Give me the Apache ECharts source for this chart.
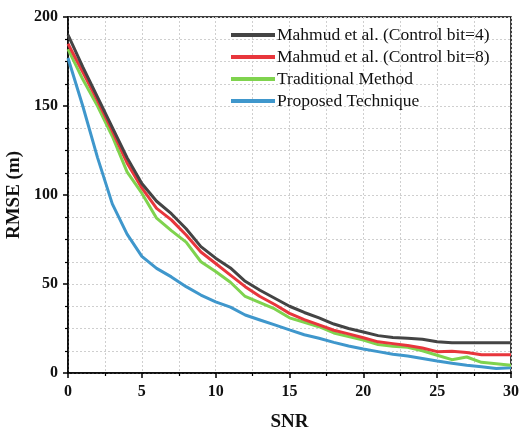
<!DOCTYPE html>
<html>
<head>
<meta charset="utf-8">
<script src="https://cdn.jsdelivr.net/npm/echarts@6/dist/echarts.min.js"></script>
<style>html,body{margin:0;padding:0;background:#fff}#c{width:520px;height:431px}</style>
</head>
<body>
<div id="c"></div>
<script>
var snr = [0,1,2,3,4,5,6,7,8,9,10,11,12,13,14,15,16,17,18,19,20,21,22,23,24,25,26,27,28,29,30];
var seriesNames = ['Mahmud et al. (Control bit=4)','Mahmud et al. (Control bit=8)','Traditional Method','Proposed Technique'];
var mahmud4 = [190,172,155,138,121,106.5,96.5,89.5,81,71,64.5,59,51.5,46.5,42,37.5,34,31,27.5,25,23,21,20,19.5,19,17.5,17,17,17,17,17];
var mahmud8 = [185,169,153,136,118,104,92.5,86,77.5,68,61.5,55,48.5,43,38.5,33.5,30,27,24,22,19.8,17.5,16.5,15.5,14,12,12.2,11.5,10.2,10.2,10.2];
var traditional = [182,165,150,133,113,101,87,80,73.5,62.5,57,51,43,39.5,36,31,28.5,26,22.5,20.5,18.5,16,15,14.5,12.5,10,7.5,9,6,5.2,4.4];
var proposed = [177,150,121,95,78,65.5,58.8,54,48.5,43.8,40,37,32.6,29.8,27,24.2,21.5,19.5,17.2,15.2,13.5,12,10.5,9.5,8.2,6.8,5.5,4.3,3.5,2.5,3];
var colors = ['#444444','#e8363c','#7fd34e','#3f97cc'];
var valuesList = [mahmud4, mahmud8, traditional, proposed];

var font = "'Times New Roman','Liberation Serif',serif";
function pairs(v){ return snr.map(function(x,i){ return [x, v[i]]; }); }

var chart = echarts.init(document.getElementById('c'));
chart.setOption({
  animation: false,
  grid: {left: 68, right: 9, top: 17, bottom: 58, outerBoundsMode: 'none', containLabel: false,
         show: true, borderColor: '#000', borderWidth: 1.5, backgroundColor: 'transparent'},
  legend: {
    orient: 'vertical', left: 231, top: 26, padding: 0,
    itemWidth: 44, itemHeight: 4, itemGap: 4,
    icon: 'rect',
    data: seriesNames,
    textStyle: {fontFamily: font, fontSize: 17.5, color: '#111', lineHeight: 17.5, padding: [0,0,0,-3]}
  },
  xAxis: {
    type: 'value', min: 0, max: 30, interval: 5,
    name: 'SNR', nameLocation: 'middle', nameGap: 40,
    nameTextStyle: {fontFamily: font, fontSize: 19, fontWeight: 'bold', color: '#111'},
    axisLine: {show: true, lineStyle: {color: '#000', width: 1.5}},
    axisTick: {show: true, length: 5, lineStyle: {color: '#000', width: 1.5}},
    minorTick: {show: true, splitNumber: 2, length: 3, lineStyle: {color: '#000', width: 1.2}},
    axisLabel: {fontFamily: font, fontSize: 16, fontWeight: 'bold', color: '#111', margin: 11},
    splitLine: {show: true, lineStyle: {color: '#cfcfcf', type: [2,2], width: 1}},
    minorSplitLine: {show: true, lineStyle: {color: '#cfcfcf', type: [2,2], width: 1}}
  },
  yAxis: {
    type: 'value', min: 0, max: 200, interval: 50,
    name: 'RMSE (m)', nameLocation: 'middle', nameGap: 35,
    nameTextStyle: {fontFamily: font, fontSize: 19, fontWeight: 'bold', color: '#111'},
    axisLine: {show: true, lineStyle: {color: '#000', width: 1.5}},
    axisTick: {show: true, length: 5, lineStyle: {color: '#000', width: 1.5}},
    minorTick: {show: true, splitNumber: 4, length: 3, lineStyle: {color: '#000', width: 1.2}},
    axisLabel: {fontFamily: font, fontSize: 16, fontWeight: 'bold', color: '#111', margin: 10},
    splitLine: {show: true, lineStyle: {color: '#cfcfcf', type: [2,2], width: 1}},
    minorSplitLine: {show: true, lineStyle: {color: '#cfcfcf', type: [2,2], width: 1}}
  },
  series: valuesList.map(function(v, i){
    return {
      name: seriesNames[i], type: 'line', data: pairs(v),
      showSymbol: false, symbol: 'none',
      lineStyle: {color: colors[i], width: 3},
      itemStyle: {color: colors[i]},
      z: 10 - i
    };
  })
});
</script>
</body>
</html>
